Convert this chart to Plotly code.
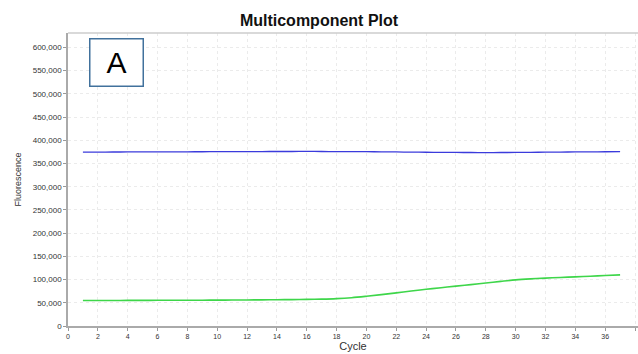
import plotly.graph_objects as go

cycles = list(range(1, 38))

# Blue dye component (flat, ~375k)
blue_values = [
    374500, 374600, 374700, 374800, 374900, 375000, 375100, 375200, 375300, 375400,
    375500, 375600, 375700, 375800, 375800, 375900, 375800, 375700, 375600, 375400,
    375100, 374800, 374500, 374200, 374000, 373800, 373600, 373500, 373600, 373800,
    374000, 374300, 374600, 374900, 375100, 375300, 375400,
]

# Green dye component (rises after cycle ~18)
green_values = [
    54800, 54900, 55000, 55100, 55200, 55300, 55400, 55500, 55600, 55700,
    55900, 56100, 56300, 56600, 56900, 57300, 57900, 59000, 61000, 64000,
    67500, 71300, 75200, 79000, 82500, 85800, 89000, 92500, 96000, 99300,
    101500, 103200, 104600, 105800, 107200, 108700, 110000,
]

x_ticks = list(range(0, 40, 2))
y_ticks = list(range(0, 650000, 50000))
y_tick_text = ["0"] + [f"{v:,}" for v in y_ticks[1:]]

fig = go.Figure()
fig.add_trace(go.Scatter(x=cycles, y=blue_values, mode="lines",
                         line=dict(color="#3b3bdc", width=1.3, shape="spline"),
                         showlegend=False))
fig.add_trace(go.Scatter(x=cycles, y=green_values, mode="lines",
                         line=dict(color="#3ed64a", width=1.6, shape="spline"),
                         showlegend=False))

fig.update_layout(
    width=638, height=354,
    margin=dict(l=68, r=0, t=33, b=28),
    paper_bgcolor="white", plot_bgcolor="white",
    font=dict(family="Liberation Sans, Arial, sans-serif", color="#222222"),
    title=dict(text="<b>Multicomponent Plot</b>", x=0.5, xanchor="center",
               y=0.943, yanchor="middle", font=dict(size=16, color="#111111")),
    xaxis=dict(range=[0, 38.2], tickvals=x_ticks, ticks="outside", ticklen=3,
               tickcolor="#999999", tickfont=dict(size=7, color="#333333"),
               showline=True, linecolor="#aaaaaa", linewidth=1.5,
               showgrid=True, gridcolor="#ebebeb", griddash="dot", gridwidth=1,
               zeroline=False, mirror=False,
               title=dict(text="Cycle", font=dict(size=11, color="#333333"), standoff=3)),
    yaxis=dict(range=[0, 631000], tickvals=y_ticks, ticktext=y_tick_text,
               ticks="outside", ticklen=3, tickcolor="#999999",
               tickfont=dict(size=8, color="#333333"),
               showline=True, linecolor="#aaaaaa", linewidth=1.5,
               showgrid=True, gridcolor="#ebebeb", griddash="dot", gridwidth=1,
               zeroline=False,
               title=dict(text="Fluorescence", font=dict(size=9, color="#333333"), standoff=10)),
)

# Top border of the plot area
fig.add_shape(type="line", xref="paper", yref="paper", x0=0, x1=1, y0=1, y1=1,
              line=dict(color="#cccccc", width=1.5))

# Panel label box
fig.add_annotation(xref="paper", yref="paper", x=(116 - 68) / 570, y=(325 - 62) / 292,
                   xanchor="center", yanchor="middle",
                   text="A", showarrow=False, font=dict(size=30, color="black"),
                   bordercolor="#41719c", borderwidth=1.5, borderpad=4,
                   bgcolor="white", width=44, height=38)

fig.write_html("out.html")
